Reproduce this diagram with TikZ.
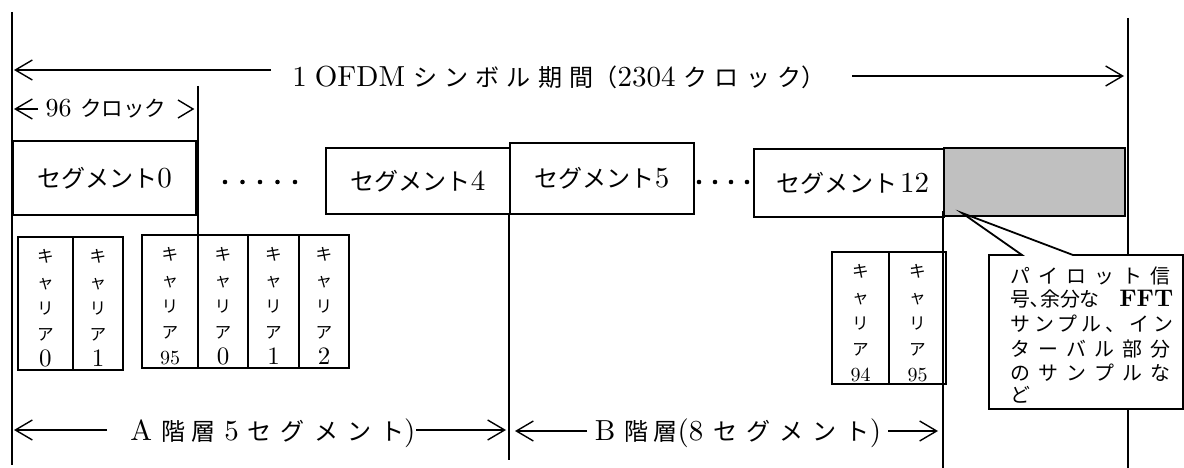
\documentclass[tikz,border=0pt]{standalone}
\usepackage{fontspec}
\setmainfont{lmroman10-regular.otf}[BoldFont=lmroman10-bold.otf]
\usetikzlibrary{arrows.meta}
\newfontfamily\jp[Scale=0.83]{Noto Sans CJK JP}
\makeatletter
\newcommand\spc[2]{{\jp\def\spc@sep{\kern#1\relax}\spc@first#2\relax}}
\def\spc@first#1{#1\spc@loop}
\def\spc@loop#1{\ifx\relax#1\else\spc@sep#1\expandafter\spc@loop\fi}
\makeatother
\newcommand\one[1]{{\fontsize{25}{26}\selectfont #1}}
\newcommand\tw[1]{{\fontsize{20}{26}\selectfont #1}}
\newcommand\kt{\fontsize{20}{26}\selectfont\jp}
\tikzset{
  big/.style={font=\fontsize{29}{34}\selectfont, inner sep=0pt},
  mid/.style={font=\fontsize{26}{30}\selectfont, inner sep=0pt},
  cartxt/.style={font=\fontsize{20}{26}\selectfont, inner sep=0pt, align=center},
  cal/.style={font=\fontsize{24}{24}\selectfont\jp, inner sep=0pt},
  vl/.style={line width=1.4pt},
  arr/.style={line width=1.4pt, -{Straight Barb[length=17pt,width=20pt,line width=1.4pt]}},
  segbox/.style={big, draw, line width=1.6pt},
  segthick/.style={big, draw, line width=2.4pt},
  carbox/.style={line width=2pt},
}
\begin{document}
\begin{tikzpicture}[x=1pt,y=-1pt]
\useasboundingbox (0,0) rectangle (1184,468);
% vertical reference lines
\coordinate (L1) at (12,12); \coordinate (L2) at (12,465);
\coordinate (R1) at (1128,18); \coordinate (R2) at (1128,468);
\coordinate (V96a) at (198,86); \coordinate (V96b) at (198,235);
\coordinate (V5a) at (509,214); \coordinate (V5b) at (509,460);
\coordinate (V12a) at (943,211); \coordinate (V12b) at (943,468);
\draw[vl, line width=1.7pt] (L1) -- (L2);
\draw[vl] (R1) -- (R2);
\draw[vl] (V96a) -- (V96b);
\draw[vl] (V5a) -- (V5b);
\draw[vl] (V12a) -- (V12b);

% title
\node[big] (ttl) at (559,77) {1\kern8pt OFDM\kern8pt\spc{7.2pt}{シンボル期間}{\jp （}2304\kern8pt\spc{7.2pt}{クロック}{\jp ）}};
\coordinate (ta1) at (271,70); \coordinate (ta2) at (14,70);
\coordinate (tb1) at (852,76); \coordinate (tb2) at (1124,76);
\draw[arr] (ta1) -- (ta2);
\draw[arr] (tb1) -- (tb2);

% 96 clock
\node[mid] (c96) at (106,109) {96 {\jp クロック}};
\coordinate (c96a) at (38,109); \coordinate (c96b) at (14,109);
\draw[arr] (c96a) -- (c96b);
\coordinate (g1) at (178,100); \coordinate (g2) at (193,109); \coordinate (g3) at (178,118);
\draw[line width=1.4pt] (g1) -- (g2) -- (g3);

% segments
\node[segthick, minimum width=183pt, minimum height=74pt] (s0) at (104.5,178) {{\jp セグメント}0};
\node[segbox, minimum width=184pt, minimum height=66pt] (s4) at (418,181) {{\jp セグメント}4};
\node[segbox, minimum width=184pt, minimum height=71pt] (s5) at (602,178.5) {{\jp セグメント}5};
\node[segbox, minimum width=190pt, minimum height=68pt] (s12) at (849,183) {\kern8pt{\jp セグメント}\kern3pt 12};
\node[segthick, fill={rgb,255:red,192;green,192;blue,192}, minimum width=181pt, minimum height=68pt] (gr) at (1034.5,182) {};
\foreach \x in {225,242.5,260,277.5,295} \fill (\x,182) circle (2.3pt);
\foreach \x in {699,715,731,747} \fill (\x,182) circle (2.3pt);

% carriers
\foreach \n/\xa/\xb/\ya/\yb/\lab in {ca/18/73/237/370/\one{0}, cb/73/123/237/370/\one{1}, cc/142/198/235/368/\tw{95}, cd/198/248/235/368/\one{0}, ce/248/299/235/368/\one{1}, cf/299/349/235/368/\one{2}, cg/832/889/252/384/\tw{94}, ch/889/946/252/384/\tw{95}}{
  \node[cartxt, anchor=north] (\n) at ({(\xa+\xb)/2},\ya+12) {{\kt キ}\\{\kt ャ}\\{\kt リ}\\{\kt ア}\\\lab};
  \draw[carbox] (\xa,\ya) rectangle (\xb,\yb);
}

% callout
\coordinate (tip) at (962,213);
\filldraw[fill=white, line width=1.8pt] (989,255) -- (1022,255) -- (tip) -- (1073,255) -- (1183,255) -- (1183,409) -- (989,409) -- cycle;
\node[cal, anchor=west] (k1) at (1010,276) {\hbox to 160pt{パ\hfill イ\hfill ロ\hfill ッ\hfill ト\hfill 信}};
\node[cal, anchor=west] (k2) at (1010,299) {\hbox to 163pt{号､余分な\hfill{\rmfamily\bfseries FFT}}};
\node[cal, anchor=west] (k3) at (1010,324) {\hbox to 163pt{サ\hfill ン\hfill プ\hfill ル\hfill 、\hfill イ\hfill ン}};
\node[cal, anchor=west] (k4) at (1010,349) {\hbox to 160pt{タ\hfill ー\hfill バ\hfill ル\hfill 部\hfill 分}};
\node[cal, anchor=west] (k5) at (1010,373) {\hbox to 160pt{の\hfill サ\hfill ン\hfill プ\hfill ル\hfill な}};
\node[cal, anchor=west] (k6) at (1010,395) {ど};

% bottom
\node[big] (tA) at (273,433) {A\kern9pt\spc{6pt}{階層}\kern9pt 5\kern9pt\spc{9pt}{セグメント})};
\coordinate (aa1) at (107,430); \coordinate (aa2) at (14,430);
\coordinate (ab1) at (416,430); \coordinate (ab2) at (506,430);
\draw[arr] (aa1) -- (aa2);
\draw[arr] (ab1) -- (ab2);
\node[big] (tB) at (738,433) {B\kern9pt\spc{5pt}{階層}(8\kern10pt\spc{9pt}{セグメント})};
\coordinate (ba1) at (587,431); \coordinate (ba2) at (515,431);
\coordinate (bb1) at (888,431); \coordinate (bb2) at (938,431);
\draw[arr] (ba1) -- (ba2);
\draw[arr] (bb1) -- (bb2);
\end{tikzpicture}
\end{document}
